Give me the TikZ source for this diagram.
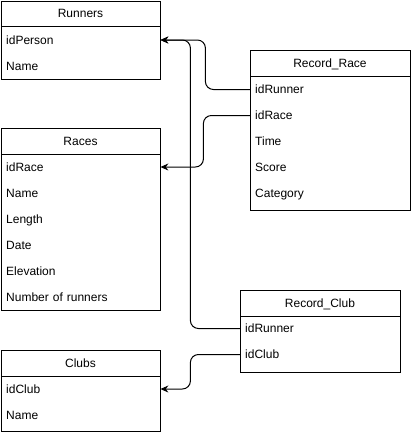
\documentclass[tikz,border=0pt]{standalone}
\usepackage{fontspec}
\setmainfont{Liberation Sans}
\usetikzlibrary{arrows.meta}

\tikzset{
  tablebox/.style={draw, line width=1pt},
  headtext/.style={font=\fontsize{12}{14}\selectfont, anchor=center, inner sep=0pt,
                   text height=8.6pt, text depth=0pt},
  rowtext/.style={font=\fontsize{12}{14}\selectfont, anchor=west, inner xsep=5pt, inner ysep=0pt,
                  text height=8.6pt, text depth=0pt, minimum height=26pt, text width=#1, align=left},
  rowtext/.default=149pt,
  link/.style={draw, line width=1pt, rounded corners=8pt, -{Stealth[length=8pt, width=7pt]}}
}

\begin{document}
\begin{tikzpicture}[x=1pt, y=-1pt]
    \useasboundingbox (0,0) rectangle (411,432);

    % table Runners
    \draw[tablebox] (1,1) rectangle (160,79);
    \draw[line width=1pt] (1,26) -- (160,26);
    \node[headtext] (runHead) at (80.5,13.5) {Runners};
    \node[rowtext] (runIdPerson) at (1,40) {idPerson};
    \node[rowtext] (runName) at (1,66) {Name};

    % table Races
    \draw[tablebox] (1,128) rectangle (160,310);
    \draw[line width=1pt] (1,154) -- (160,154);
    \node[headtext] (raceHead) at (80.5,141) {Races};
    \node[rowtext] (raceIdRace) at (1,167) {idRace};
    \node[rowtext] (raceName) at (1,193) {Name};
    \node[rowtext] (raceLength) at (1,219) {Length};
    \node[rowtext] (raceDate) at (1,245) {Date};
    \node[rowtext] (raceElev) at (1,271) {Elevation};
    \node[rowtext] (raceNum) at (1,297) {Number of runners};

    % table Clubs
    \draw[tablebox] (1,350) rectangle (160,431);
    \draw[line width=1pt] (1,376) -- (160,376);
    \node[headtext] (clubHead) at (80.5,363) {Clubs};
    \node[rowtext] (clubIdClub) at (1,389) {idClub};
    \node[rowtext] (clubName) at (1,415) {Name};

    % table Record_Race
    \draw[tablebox] (250,50) rectangle (410,210);
    \draw[line width=1pt] (250,76) -- (410,76);
    \node[headtext] (rrHead) at (330,63) {Record\_Race};
    \node[rowtext=150pt] (rrIdRunner) at (250,89.5) {idRunner};
    \node[rowtext=150pt] (rrIdRace) at (250,115.5) {idRace};
    \node[rowtext=150pt] (rrTime) at (250,141.5) {Time};
    \node[rowtext=150pt] (rrScore) at (250,167.5) {Score};
    \node[rowtext=150pt] (rrCat) at (250,193.5) {Category};

    % table Record_Club
    \draw[tablebox] (240,290) rectangle (400,372);
    \draw[line width=1pt] (240,316) -- (400,316);
    \node[headtext] (rcHead) at (320,303) {Record\_Club};
    \node[rowtext=150pt] (rcIdRunner) at (240,328.5) {idRunner};
    \node[rowtext=150pt] (rcIdClub) at (240,354.5) {idClub};

    % foreign keys
    \draw[link] (rrIdRunner.west) -| ([xshift=45pt]runIdPerson.east) -- (runIdPerson.east);
    \draw[link] (rrIdRace.west) -| ([xshift=43pt]raceIdRace.east) -- (raceIdRace.east);
    \draw[link] (rcIdRunner.west) -| ([xshift=30pt]runIdPerson.east) -- (runIdPerson.east);
    \draw[link] (rcIdClub.west) -| ([xshift=30pt]clubIdClub.east) -- (clubIdClub.east);

\end{tikzpicture}
\end{document}
